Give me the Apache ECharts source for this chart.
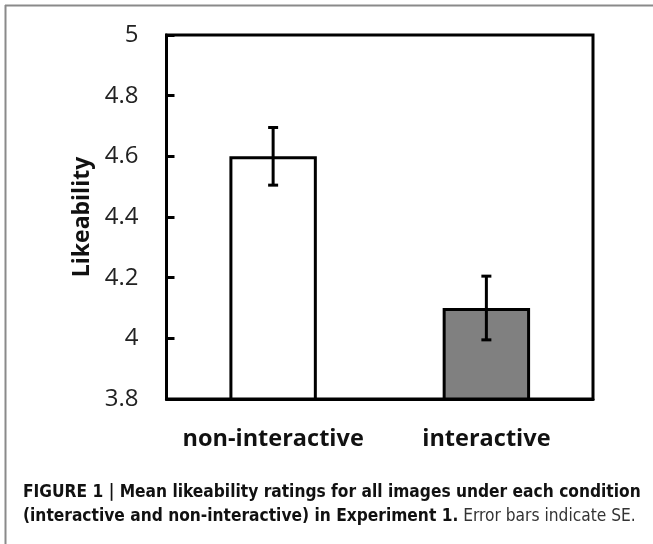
<!DOCTYPE html>
<html>
<head>
<meta charset="utf-8">
<script src="https://cdn.jsdelivr.net/npm/echarts@6/dist/echarts.min.js"></script>
<style>html,body{margin:0;padding:0;background:#fff;}#c{width:653px;height:544px;}</style>
</head>
<body>
<div id="c"></div>
<script>
const categories = ['non-interactive', 'interactive'];
const means = [4.6, 4.1];
const se = [0.095, 0.105];
const yTicks = [3.8, 4, 4.2, 4.4, 4.6, 4.8, 5];
const barColors = ['#ffffff', '#808080'];
const captionBold1 = 'FIGURE 1 | Mean likeability ratings for all images under each condition';
const captionBold2 = '(interactive and non-interactive) in Experiment 1.';
const captionNormal2 = ' Error bars indicate SE.';

// fit caption font size so first line spans the reference width
const capFont = '"DejaVu Sans Condensed", "Liberation Sans", sans-serif';
const cv = document.createElement('canvas').getContext('2d');
cv.font = 'bold 100px ' + capFont;
const w100 = cv.measureText(captionBold1).width;
const capSize = Math.max(10, Math.min(20, 100 * 618 / w100));

const chart = echarts.init(document.getElementById('c'), null, {renderer: 'canvas'});
const option = {
  backgroundColor: '#ffffff',
  animation: false,
  grid: {left: 166.5, right: 60, top: 35, bottom: 145, show: true, borderColor: '#000', borderWidth: 3, backgroundColor: 'transparent'},
  xAxis: {
    type: 'category', data: categories,
    axisLine: {show: true, lineStyle: {color: '#000', width: 3}},
    axisTick: {show: false},
    axisLabel: {interval: 0, margin: 28, color: '#111', fontFamily: 'Open Sans', fontWeight: 'bold', fontSize: 23.5}
  },
  yAxis: {
    type: 'value', min: yTicks[0], max: yTicks[yTicks.length - 1], interval: 0.2,
    name: 'Likeability', nameLocation: 'middle', nameGap: 73,
    nameTextStyle: {fontFamily: 'Open Sans', fontWeight: 'bold', fontSize: 23, color: '#111'},
    axisLine: {show: true, lineStyle: {color: '#000', width: 3}},
    axisTick: {show: true, inside: true, length: 8, lineStyle: {color: '#000', width: 3}},
    splitLine: {show: false},
    axisLabel: {margin: 28, color: '#222', fontFamily: 'Open Sans', fontSize: 24,
      formatter: v => String(Math.round(v * 10) / 10)}
  },
  series: [
    {
      type: 'bar', barWidth: '41%',
      data: means.map((m, i) => ({value: m, itemStyle: {color: barColors[i]}})),
      itemStyle: {borderColor: '#000', borderWidth: 3},
      z: 2
    },
    {
      type: 'custom', z: 3,
      data: means.map((m, i) => [i, m - se[i], m + se[i]]),
      renderItem: (params, api) => {
        const lo = api.coord([api.value(0), api.value(1)]);
        const hi = api.coord([api.value(0), api.value(2)]);
        const w = 5;
        const st = {stroke: '#000', lineWidth: 3};
        return {type: 'group', children: [
          {type: 'line', shape: {x1: hi[0], y1: hi[1], x2: lo[0], y2: lo[1]}, style: st},
          {type: 'line', shape: {x1: hi[0] - w, y1: hi[1], x2: hi[0] + w, y2: hi[1]}, style: st},
          {type: 'line', shape: {x1: lo[0] - w, y1: lo[1], x2: lo[0] + w, y2: lo[1]}, style: st}
        ]};
      }
    }
  ],
  graphic: [
    {type: 'line', shape: {x1: 5, y1: 5.5, x2: 653, y2: 5.5}, style: {stroke: '#8a8a8a', lineWidth: 2}},
    {type: 'line', shape: {x1: 5.5, y1: 5, x2: 5.5, y2: 544}, style: {stroke: '#8a8a8a', lineWidth: 2}},
    {type: 'text', left: 23, top: 484, style: {
      text: '{b|' + captionBold1 + '}\n{b|' + captionBold2 + '}{n|' + captionNormal2 + '}',
      rich: {
        b: {fontFamily: capFont, fontWeight: 'bold', fontSize: capSize, lineHeight: 24, fill: '#111'},
        n: {fontFamily: capFont, fontWeight: 'normal', fontSize: capSize, lineHeight: 24, fill: '#333'}
      }
    }}
  ]
};
chart.setOption(option);
</script>
</body>
</html>
